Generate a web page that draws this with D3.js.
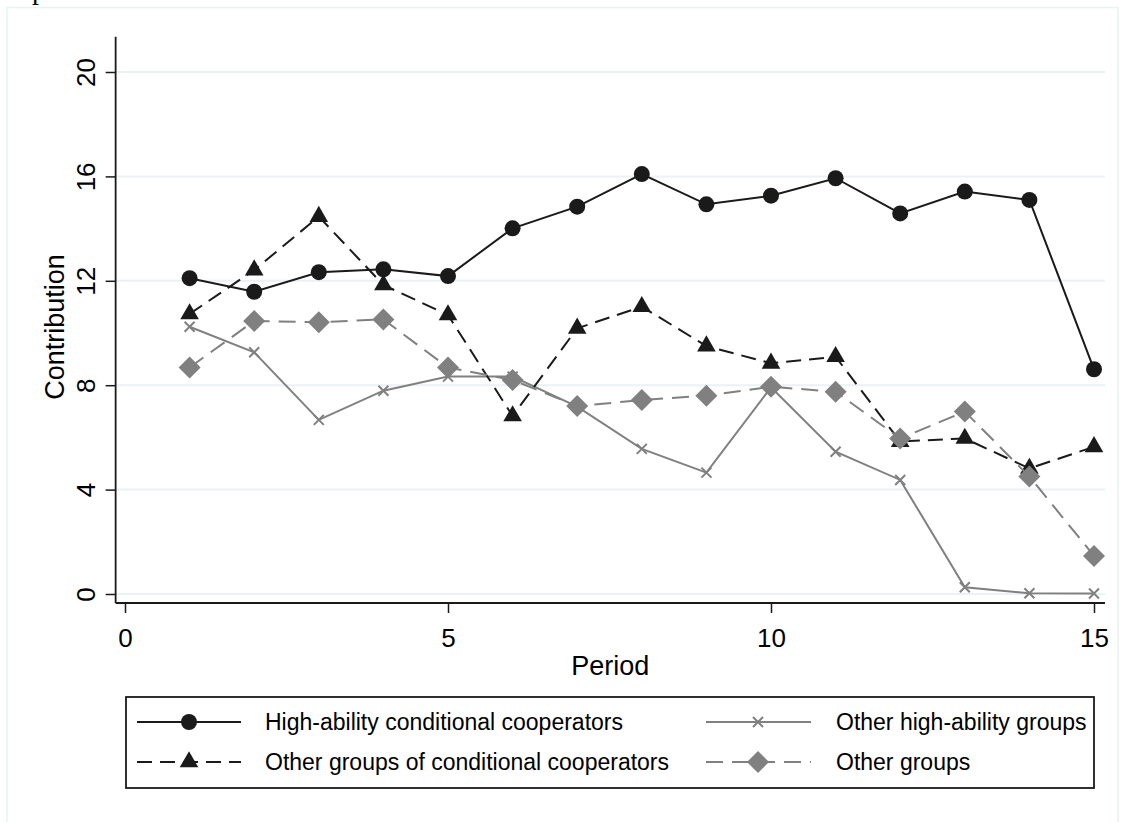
<!DOCTYPE html>
<html>
<head>
<meta charset="utf-8">
<script src="https://cdn.jsdelivr.net/npm/d3@7"></script>
<style>
  html, body { margin: 0; padding: 0; background: #fff; }
  svg { display: block; }
  text { font-family: "Liberation Sans", Arial, sans-serif; fill: #000; }
</style>
</head>
<body>
<svg id="chart" width="1126" height="822"></svg>
<script>
// ---- data ----
const periods = [1,2,3,4,5,6,7,8,9,10,11,12,13,14,15];
const highAbilityCC = [12.10,11.58,12.33,12.44,12.18,14.01,14.84,16.09,14.93,15.26,15.93,14.58,15.42,15.10,8.61];
const otherHighAbility = [10.24,9.26,6.67,7.79,8.33,8.33,7.18,5.56,4.65,7.92,5.45,4.37,0.26,0.03,0.02];
const otherCC = [10.73,12.41,14.46,11.84,10.69,6.82,10.18,11.01,9.50,8.84,9.09,5.84,5.96,4.81,5.64];
const otherGroups = [8.68,10.46,10.41,10.52,8.68,8.20,7.20,7.43,7.60,7.94,7.75,5.96,6.99,4.50,1.46];
const xTicks = [0,5,10,15];
const yTicks = [0,4,8,12,16,20];
const seriesNames = ["High-ability conditional cooperators","Other high-ability groups","Other groups of conditional cooperators","Other groups"];

const svg = d3.select("#chart");
const BLACK = "#1a1a1a", GREY = "#808080", GRID = "#eaf2f3";

// outer frame
svg.append("rect").attr("x",7).attr("y",7.5).attr("width",1111).attr("height",830)
  .attr("fill","none").attr("stroke",GRID).attr("stroke-width",1.5);
// clipped glyph from text above
svg.append("text").attr("x",32).attr("y",-1).attr("font-family","Liberation Serif")
  .style("font-family","'Liberation Serif', serif").attr("font-size",28).text("p");

const x = d3.scaleLinear().domain([0,15]).range([125,1094]);
const y = d3.scaleLinear().domain([0,20]).range([594,72]);
const xMin = -0.145, xMax = 15.17, yMin = -0.345, yMax = 21.35;

// gridlines
svg.append("g").selectAll("line").data(yTicks).join("line")
  .attr("x1",x(xMin)).attr("x2",x(xMax)).attr("y1",d=>y(d)).attr("y2",d=>y(d))
  .attr("stroke",GRID).attr("stroke-width",2);

// y axis
const yAxis = svg.append("g").attr("transform",`translate(${x(xMin)},0)`)
  .call(d3.axisLeft(y).tickValues(yTicks).tickSize(10).tickPadding(0).tickFormat(d3.format("d")));
yAxis.select(".domain").remove();
yAxis.selectAll(".tick line").attr("stroke",BLACK).attr("stroke-width",1.5);
yAxis.selectAll(".tick text").attr("font-size",26).attr("fill","#000")
  .attr("transform","translate(-21,0) rotate(-90)").attr("text-anchor","middle").attr("x",0).attr("dy","0").attr("y",0)
  .style("font-family","'Liberation Sans', Arial, sans-serif");
svg.append("line").attr("x1",x(xMin)).attr("x2",x(xMin)).attr("y1",y(yMax)).attr("y2",y(yMin))
  .attr("stroke",BLACK).attr("stroke-width",1.8);

// x axis
const xAxis = svg.append("g").attr("transform",`translate(0,${y(yMin)})`)
  .call(d3.axisBottom(x).tickValues(xTicks).tickSize(10).tickPadding(0).tickFormat(d3.format("d")));
xAxis.select(".domain").remove();
xAxis.selectAll(".tick line").attr("stroke",BLACK).attr("stroke-width",1.5);
xAxis.selectAll(".tick text").attr("font-size",26).attr("fill","#000").attr("dy",0).attr("y",44)
  .style("font-family","'Liberation Sans', Arial, sans-serif");
svg.append("line").attr("x1",x(xMin)).attr("x2",x(xMax)).attr("y1",y(yMin)).attr("y2",y(yMin))
  .attr("stroke",BLACK).attr("stroke-width",1.8);

// axis titles
svg.append("text").attr("transform",`translate(64,${y(10)+ -6}) rotate(-90)`).attr("text-anchor","middle")
  .attr("font-size",27).text("Contribution");
svg.append("text").attr("x",(x(xMin)+x(xMax))/2).attr("y",675).attr("text-anchor","middle")
  .attr("font-size",27).text("Period");

// lines
const line = d3.line().x(d=>x(d[0])).y(d=>y(d[1]));
const zip = arr => periods.map((p,i)=>[p,arr[i]]);

function drawMarker(g, type, color) {
  if (type === "circle") g.append("circle").attr("r",8).attr("fill",color);
  else if (type === "triangle") g.append("path").attr("d",d3.symbol(d3.symbolTriangle,150)()).attr("fill",color);
  else if (type === "diamond") g.append("path").attr("d","M0,-11L11,0L0,11L-11,0Z").attr("fill",color);
  else if (type === "x") g.append("path").attr("d","M-5,-5L5,5M-5,5L5,-5").attr("stroke",color).attr("stroke-width",2).attr("fill","none");
}

const series = [
  {data: highAbilityCC, color: BLACK, dash: null, marker: "circle", w: 2},
  {data: otherHighAbility, color: GREY, dash: null, marker: "x", w: 2},
  {data: otherCC, color: BLACK, dash: "15,8", marker: "triangle", w: 2},
  {data: otherGroups, color: GREY, dash: "17,9", marker: "diamond", w: 2}
];

series.forEach(s => {
  svg.append("path").datum(zip(s.data)).attr("d",line).attr("fill","none")
    .attr("stroke",s.color).attr("stroke-width",s.w).attr("stroke-dasharray",s.dash);
  svg.append("g").selectAll("g").data(zip(s.data)).join("g")
    .attr("transform",d=>`translate(${x(d[0])},${y(d[1])})`)
    .each(function(){ drawMarker(d3.select(this), s.marker, s.color); });
});

// legend
const lg = svg.append("g");
lg.append("rect").attr("x",126).attr("y",697).attr("width",968).attr("height",91)
  .attr("fill","#fff").attr("stroke",BLACK).attr("stroke-width",1.8);
const legendPos = [
  {x1:137,x2:241,mx:189,tx:265,y:722},
  {x1:706,x2:811,mx:758,tx:836,y:722},
  {x1:137,x2:241,mx:189,tx:265,y:762},
  {x1:706,x2:811,mx:758,tx:836,y:762}
];
series.forEach((s,i) => {
  const p = legendPos[i];
  lg.append("line").attr("x1",p.x1).attr("x2",p.x2).attr("y1",p.y).attr("y2",p.y)
    .attr("stroke",s.color).attr("stroke-width",s.w).attr("stroke-dasharray",s.dash);
  drawMarker(lg.append("g").attr("transform",`translate(${p.mx},${p.y})`), s.marker, s.color);
  lg.append("text").attr("x",p.tx).attr("y",p.y+8).attr("font-size",23).text(seriesNames[i]);
});
</script>
</body>
</html>
